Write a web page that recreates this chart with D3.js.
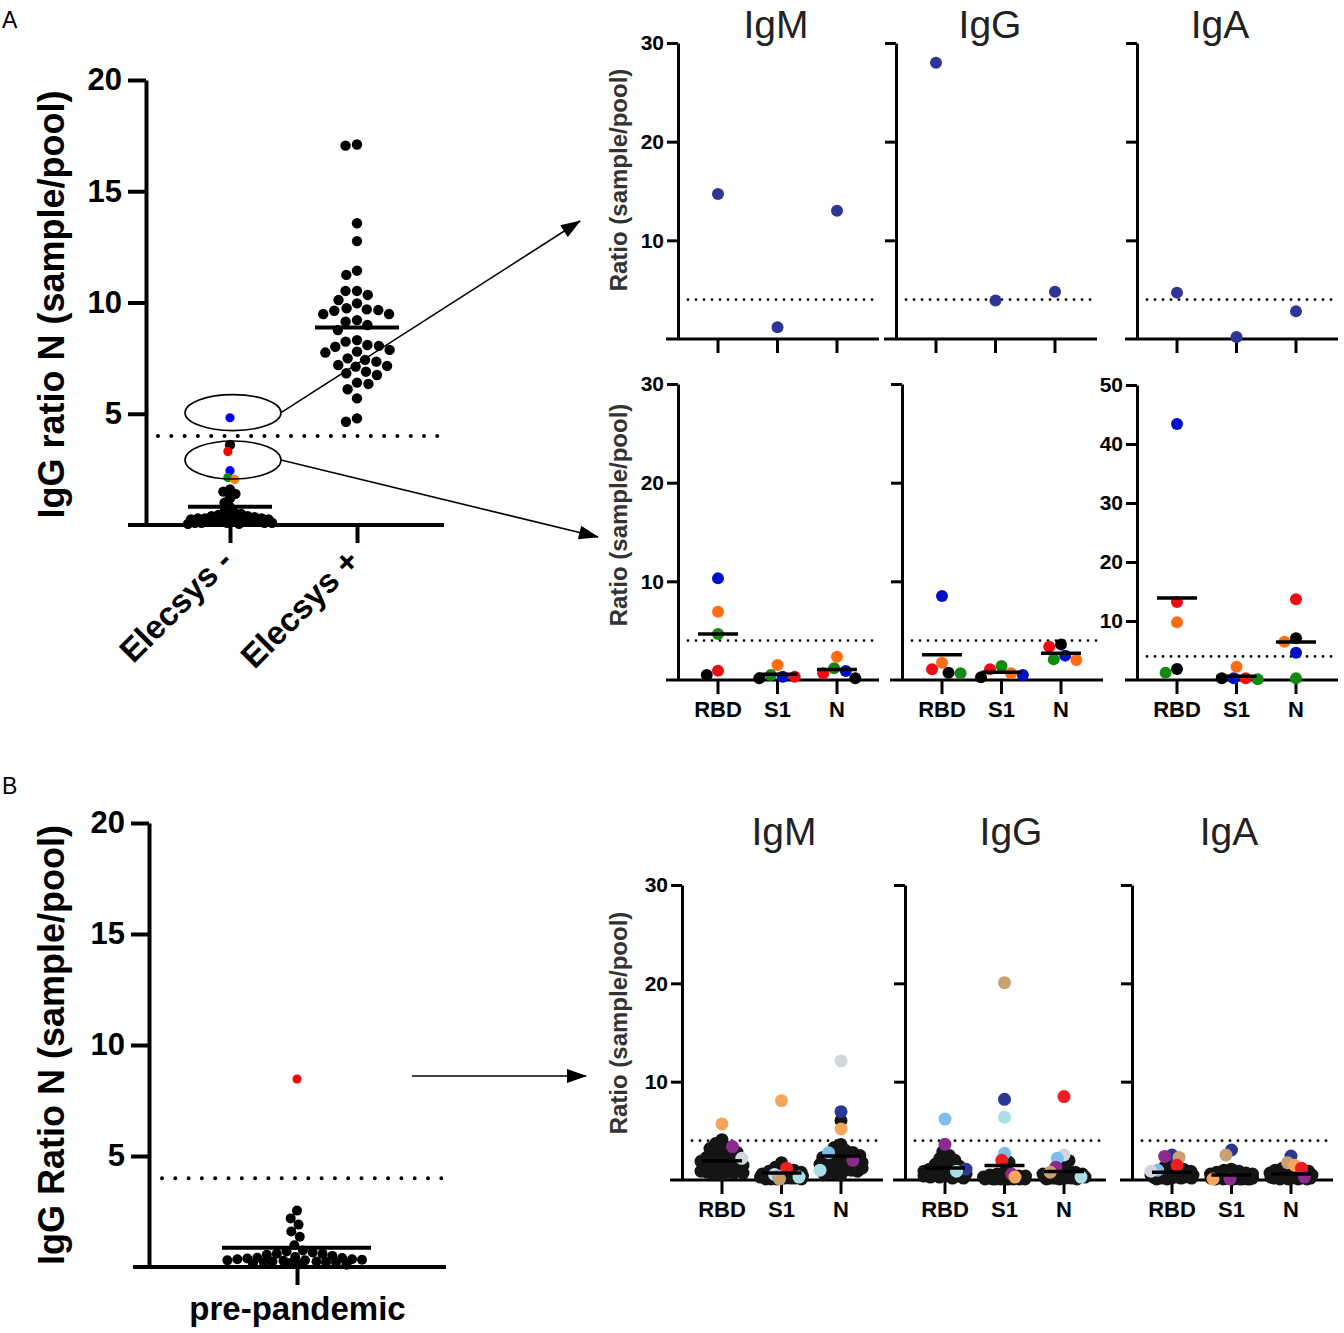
<!DOCTYPE html>
<html>
<head>
<meta charset="utf-8">
<script src="https://cdn.jsdelivr.net/npm/d3@7"></script>
<style>
body{margin:0;background:#fff;}
svg{display:block;font-family:"Liberation Sans",Arial,sans-serif;}
</style>
</head>
<body>
<script>
const W = 1344, H = 1333;

// ---------------- data ----------------
const cutoff = 4;
const groupsA = ["Elecsys -", "Elecsys +"];
// Elecsys negative: black samples and the five coloured (highlighted) samples
const elecsysNegBlack = [3.6, 1.6, 1.5, 1.4, 1.2, 1.0, 0.8, 0.6, 0.55, 0.5, 0.45, 0.4, 0.4, 0.35, 0.35,
  0.3, 0.3, 0.3, 0.25, 0.25, 0.25, 0.2, 0.2, 0.2, 0.2, 0.15, 0.15, 0.15, 0.1, 0.1, 0.1, 0.1, 0.1, 0.05, 0.05];
const elecsysNegColored = [4.82, 3.3, 2.44, 2.14, 2.05];
const elecsysNegColors = ["#0000ff", "#ff0000", "#0000ff", "#008a00", "#ff7f00"];
const elecsysPos = [17.1, 17.05, 13.56, 12.76, 11.43, 11.24, 10.52, 10.52, 10.34, 10.11, 9.96, 9.74, 9.69,
  9.66, 9.63, 9.48, 9.48, 9.21, 9.14, 8.99, 8.76, 8.31, 8.24, 8.09, 8.05, 8.01, 7.87, 7.79, 7.75, 7.49,
  7.42, 7.34, 7.19, 7.15, 7.12, 6.89, 6.82, 6.74, 6.40, 6.34, 6.10, 5.69, 4.79, 4.64];

const antigens = ["RBD", "S1", "N"];
const isotypes = ["IgM", "IgG", "IgA"];

// A top: the sample above the cut-off (RBD, S1, N)
const aTopIgM = [14.7, 1.2, 13.0];
const aTopIgG = [28.0, 3.9, 4.8];
const aTopIgA = [4.7, 0.2, 2.8];
const aTopColor = "#2e3594";

// A bottom: five samples below the cut-off, order blue, orange, green, red, black
const aBotColors = ["#0010c8", "#ff6d12", "#128a12", "#f00a14", "#000000"];
const aBotIgM = [[10.3, 6.92, 4.66, 0.94, 0.51], [0.34, 1.52, 0.51, 0.34, 0.17], [0.91, 2.36, 1.18, 0.68, 0.17]];
const aBotIgG = [[8.51, 1.76, 0.68, 1.08, 0.74], [0.51, 0.68, 1.42, 1.08, 0.27], [2.47, 2.03, 2.09, 3.38, 3.61]];
const aBotIgA = [[43.4, 9.77, 1.24, 13.2, 1.86], [0.28, 2.26, 0.11, 0.28, 0.28], [4.63, 6.5, 0.28, 13.7, 7.06]];

// B left: pre-pandemic
const preBlack = [2.54, 2.19, 1.91, 1.6, 1.36, 0.98, 0.74, 0.7, 0.65, 0.6, 0.59, 0.55, 0.5, 0.45, 0.42, 0.4,
  0.38, 0.35, 0.35, 0.33, 0.3, 0.3, 0.28, 0.25, 0.25, 0.22, 0.2, 0.2, 0.18, 0.15, 0.12, 0.1];
const preRed = [8.47];

// B right: highlighted samples [colour, value] and the black rest, per antigen RBD, S1, N
const bPalette = {orange: "#f6a55c", purple: "#8c2b8e", gray: "#d4d6de", navy: "#2b3794",
  lblue: "#7fbdeb", cyan: "#a9dfe6", tan: "#c9a170", red: "#ee1d23"};
const bIgMColored = [
  [["orange", 5.7], ["purple", 3.4], ["gray", 2.2]],
  [["orange", 8.07], ["red", 1.2], ["gray", 0.56], ["lblue", 0.4], ["cyan", 0.3], ["tan", 0.1]],
  [["gray", 12.1], ["navy", 6.95], ["orange", 5.19], ["lblue", 2.78], ["purple", 2.0], ["cyan", 1.0]]];
const bIgGColored = [
  [["lblue", 6.2], ["purple", 3.63], ["navy", 1.1], ["cyan", 0.9]],
  [["tan", 20.07], ["navy", 8.2], ["cyan", 6.37], ["lblue", 2.71], ["red", 2.0], ["purple", 0.6], ["orange", 0.3]],
  [["red", 8.48], ["gray", 2.54], ["lblue", 2.2], ["purple", 1.3], ["tan", 0.8], ["cyan", 0.3]]];
const bIgAColored = [
  [["navy", 2.54], ["purple", 2.4], ["tan", 2.3], ["red", 1.5], ["lblue", 1.0], ["gray", 0.9]],
  [["navy", 3.05], ["tan", 2.54], ["orange", 0.1], ["purple", 0.1]],
  [["navy", 2.44], ["tan", 1.76], ["orange", 1.5], ["red", 1.2], ["purple", 0.3]]];
const bIgMBlack = [
  [4.1, 3.7, 3.4, 3.2, 3.0, 2.8, 2.6, 2.4, 2.3, 2.2, 2.0, 1.9, 1.8, 1.7, 1.6, 1.5, 1.4, 1.3, 1.2, 1.1, 1.0, 1.0, 0.9, 0.9, 0.8, 0.8, 0.7, 0.7, 0.6, 0.5],
  [1.76, 1.3, 1.0, 0.9, 0.8, 0.7, 0.6, 0.6, 0.5, 0.5, 0.5, 0.4, 0.4, 0.4, 0.3, 0.3, 0.3, 0.3, 0.2, 0.2, 0.2, 0.2, 0.2, 0.1, 0.1, 0.1, 0.1],
  [6.03, 3.6, 3.3, 3.0, 2.8, 2.6, 2.5, 2.3, 2.2, 2.0, 1.9, 1.8, 1.7, 1.6, 1.5, 1.4, 1.3, 1.2, 1.2, 1.1, 1.0, 1.0, 0.9, 0.8, 0.7, 0.6, 0.5]];
const bIgGBlack = [
  [2.9, 2.5, 2.2, 2.0, 1.8, 1.6, 1.4, 1.3, 1.2, 1.1, 1.0, 0.9, 0.9, 0.8, 0.8, 0.7, 0.7, 0.6, 0.6, 0.5, 0.5, 0.5, 0.4, 0.4, 0.4, 0.3, 0.3, 0.2, 0.2],
  [1.8, 0.8, 0.6, 0.5, 0.4, 0.4, 0.3, 0.3, 0.3, 0.3, 0.2, 0.2, 0.2, 0.2, 0.2, 0.2, 0.2, 0.1, 0.1, 0.1, 0.1, 0.1, 0.1, 0.1, 0.1, 0.1],
  [1.97, 1.5, 0.9, 0.8, 0.7, 0.6, 0.6, 0.5, 0.5, 0.5, 0.4, 0.4, 0.4, 0.4, 0.3, 0.3, 0.3, 0.3, 0.3, 0.2, 0.2, 0.2, 0.2, 0.2, 0.1, 0.1, 0.1]];
const bIgABlack = [
  [1.8, 1.3, 1.1, 1.0, 0.9, 0.8, 0.8, 0.7, 0.7, 0.6, 0.6, 0.5, 0.5, 0.5, 0.4, 0.4, 0.4, 0.3, 0.3, 0.3, 0.3, 0.2, 0.2, 0.2, 0.2, 0.1, 0.1],
  [1.1, 1.0, 0.9, 0.8, 0.7, 0.6, 0.6, 0.5, 0.5, 0.5, 0.4, 0.4, 0.4, 0.3, 0.3, 0.3, 0.3, 0.2, 0.2, 0.2, 0.2, 0.2, 0.1, 0.1, 0.1, 0.1, 0.1, 0.1, 0.1],
  [1.2, 1.0, 0.9, 0.9, 0.8, 0.7, 0.7, 0.6, 0.6, 0.5, 0.5, 0.5, 0.4, 0.4, 0.4, 0.3, 0.3, 0.3, 0.3, 0.2, 0.2, 0.2, 0.2, 0.2, 0.1, 0.1, 0.1, 0.1]];

// ---------------- helpers ----------------
const svg = d3.select("body").append("svg").attr("width", W).attr("height", H);

// beeswarm: each point goes to the free offset closest to the centre
function swarm(items, sep, maxOff) {
  const placed = [];
  items.slice().sort((a, b) => a.py - b.py).forEach(p => {
    const near = placed.filter(q => Math.abs(q.py - p.py) < sep);
    const iv = near.map(q => {
      const w = Math.sqrt(sep * sep - (q.py - p.py) ** 2);
      return [q.dx - w, q.dx + w];
    });
    const free = c => iv.every(([a, b]) => c <= a + 1e-6 || c >= b - 1e-6);
    const cands = [0, ...iv.flat()].filter(c => Math.abs(c) <= maxOff && free(c))
      .sort((a, b) => Math.abs(a) - Math.abs(b) || a - b);
    let x = cands[0];
    if (x === undefined) {
      let best = -1;
      x = 0;
      for (let c = -maxOff; c <= maxOff; c += 0.5) {
        const d = d3.min(near, q => Math.hypot(q.dx - c, q.py - p.py));
        if (d > best + 1e-9) { best = d; x = c; }
      }
    }
    p.dx = x;
    placed.push(p);
  });
  return items;
}

function styleAxis(sel, stroke, fontSize) {
  sel.attr("font-family", null).attr("font-size", null);
  sel.select(".domain").attr("stroke", "#000").attr("stroke-width", stroke);
  sel.selectAll(".tick line").attr("stroke", "#000").attr("stroke-width", stroke);
  sel.selectAll(".tick text").attr("fill", "#000").style("font-size", fontSize + "px").style("font-weight", "bold");
}

function dotted(g, x1, x2, y, w, gap) {
  g.append("line").attr("x1", x1).attr("x2", x2).attr("y1", y).attr("y2", y)
    .attr("stroke", "#000").attr("stroke-width", w).attr("stroke-linecap", "round")
    .attr("stroke-dasharray", "0 " + gap);
}

// panel letters
svg.append("text").attr("x", 2).attr("y", 28).text("A").style("font-size", "23px");
svg.append("text").attr("x", 2).attr("y", 794).text("B").style("font-size", "23px");

// ---------------- A left ----------------
const yA = d3.scaleLinear().domain([0, 20]).range([525, 80]);
const xA = d3.scalePoint().domain(groupsA).range([230, 357]);
const gA = svg.append("g");

gA.append("line").attr("x1", 128).attr("x2", 444).attr("y1", yA(0)).attr("y2", yA(0))
  .attr("stroke", "#000").attr("stroke-width", 4);
const axYA = gA.append("g").attr("transform", "translate(146,0)")
  .call(d3.axisLeft(yA).tickValues([5, 10, 15, 20]).tickSize(18).tickPadding(6).tickSizeOuter(0).tickFormat(d3.format("d")));
styleAxis(axYA, 4, 31);
const axXA = gA.append("g").attr("transform", `translate(0,${yA(0)})`)
  .call(d3.axisBottom(xA).tickSize(18).tickSizeOuter(0));
axXA.select(".domain").remove();
styleAxis(axXA, 4, 33);
axXA.selectAll(".tick text").attr("y", null).attr("dy", null)
  .attr("text-anchor", "end").attr("transform", "translate(4,38) rotate(-45)");

gA.append("text").attr("transform", `translate(64,${(yA(0) + yA(20)) / 2 + 2}) rotate(-90)`)
  .attr("text-anchor", "middle").style("font-size", "36px").style("font-weight", "bold")
  .text("IgG ratio N (sample/pool)");

dotted(gA, 158, 442, yA(cutoff), 4, 13.3);

const negPts = elecsysNegBlack.map(v => ({v, c: "#000", py: yA(v)}))
  .concat(elecsysNegColored.map((v, i) => ({v, c: elecsysNegColors[i], py: yA(v), col: true})));
swarm(negPts, 7, 42);
const posPts = swarm(elecsysPos.map(v => ({v, c: "#000", py: yA(v)})), 11.5, 45);

[[groupsA[0], negPts, 84], [groupsA[1], posPts, 84]].forEach(([grp, pts, mw]) => {
  const cx = xA(grp);
  const ordered = pts.filter(p => !p.col).concat(pts.filter(p => p.col));
  gA.append("g").selectAll("circle").data(ordered).join("circle")
    .attr("cx", d => cx + d.dx).attr("cy", d => d.py).attr("r", d => d.col ? 4.6 : 5.2).attr("fill", d => d.c);
  const m = d3.mean(pts, d => d.v);
  gA.append("line").attr("x1", cx - mw / 2).attr("x2", cx + mw / 2).attr("y1", yA(m)).attr("y2", yA(m))
    .attr("stroke", "#000").attr("stroke-width", 4);
});

// highlight ellipses and arrows
const defs = svg.append("defs");
defs.append("marker").attr("id", "arrow").attr("viewBox", "0 0 20 14").attr("refX", 19).attr("refY", 7)
  .attr("markerWidth", 21).attr("markerHeight", 14).attr("markerUnits", "userSpaceOnUse").attr("orient", "auto")
  .append("path").attr("d", "M0,0L20,7L0,14Z").attr("fill", "#000");
const ellX = xA(groupsA[0]) + 3;
const ellipses = [{cy: yA(5.05), ry: 18, tx: 580, ty: 221}, {cy: yA(2.92), ry: 19, tx: 598, ty: 537}];
ellipses.forEach(e => {
  gA.append("ellipse").attr("cx", ellX).attr("cy", e.cy).attr("rx", 48).attr("ry", e.ry)
    .attr("fill", "none").attr("stroke", "#000").attr("stroke-width", 1.6);
  gA.append("line").attr("x1", ellX + 48).attr("y1", e.cy).attr("x2", e.tx).attr("y2", e.ty)
    .attr("stroke", "#000").attr("stroke-width", 1.6).attr("marker-end", "url(#arrow)");
});

// ---------------- small panels ----------------
function smallPanel(axisX, y, ticks, showLabels, showCats, groups, withMeans, sep, maxOff, r) {
  const g = svg.append("g");
  const x = d3.scalePoint().domain(antigens).range([axisX + 40, axisX + 159]);
  const y0 = y(0);
  g.append("line").attr("x1", axisX - 12).attr("x2", axisX + 201).attr("y1", y0).attr("y2", y0)
    .attr("stroke", "#000").attr("stroke-width", 3);
  g.selectAll(".xt").data(antigens).join("line").attr("class", "xt")
    .attr("x1", d => x(d)).attr("x2", d => x(d)).attr("y1", y0).attr("y2", y0 + 14)
    .attr("stroke", "#000").attr("stroke-width", 3);
  if (showCats) {
    g.selectAll(".xl").data(antigens).join("text").attr("class", "xl")
      .attr("x", d => x(d)).attr("y", y0 + 37).attr("text-anchor", "middle")
      .style("font-size", "22px").style("font-weight", "bold").text(d => d);
  }
  const ax = g.append("g").attr("transform", `translate(${axisX},0)`)
    .call(d3.axisLeft(y).tickValues(ticks).tickSize(11).tickPadding(3).tickSizeOuter(0)
      .tickFormat(showLabels ? d3.format("d") : ""));
  styleAxis(ax, 3, 21);
  dotted(g, axisX + 10, axisX + 201, y(cutoff), 2.8, 8);

  groups.forEach((pts, i) => {
    const cx = x(antigens[i]);
    pts.forEach(p => { p.py = y(p.v); });
    swarm(pts, sep, maxOff);
    const ordered = pts.filter(p => !p.col).concat(pts.filter(p => p.col));
    g.append("g").selectAll("circle").data(ordered).join("circle")
      .attr("cx", d => cx + d.dx).attr("cy", d => d.py).attr("r", r).attr("fill", d => d.c);
    if (withMeans) {
      const m = d3.mean(pts, d => d.v);
      g.append("line").attr("x1", cx - 20).attr("x2", cx + 20).attr("y1", y(m)).attr("y2", y(m))
        .attr("stroke", "#000").attr("stroke-width", 3.5);
    }
  });
  return g;
}

function ratioTitle(cy) {
  svg.append("text").attr("transform", `translate(627,${cy}) rotate(-90)`).attr("text-anchor", "middle")
    .attr("fill", "#333").style("font-size", "24px").style("font-weight", "bold").text("Ratio (sample/pool)");
}
function isoTitles(xs, y) {
  svg.selectAll(null).data(isotypes).join("text").attr("x", (d, i) => xs[i]).attr("y", y)
    .attr("text-anchor", "middle").attr("fill", "#222").style("font-size", "39px").text(d => d);
}

// A top row
const yTop = d3.scaleLinear().domain([0, 30]).range([339, 43]);
[aTopIgM, aTopIgG, aTopIgA].forEach((vals, k) => {
  const groups = vals.map(v => [{v, c: aTopColor}]);
  smallPanel([678, 896, 1137][k], yTop, [10, 20, 30], k === 0, false, groups, false, 12, 30, 6);
});
isoTitles([776, 990, 1220], 38);
ratioTitle(180);

// A bottom row
const yBot = d3.scaleLinear().domain([0, 30]).range([680, 384]);
const yBotA = d3.scaleLinear().domain([0, 50]).range([680, 385]);
[aBotIgM, aBotIgG, aBotIgA].forEach((rows, k) => {
  const groups = rows.map(r => r.map((v, j) => ({v, c: aBotColors[j]})));
  smallPanel([678, 902, 1137][k], k === 2 ? yBotA : yBot, k === 2 ? [10, 20, 30, 40, 50] : [10, 20, 30],
    k !== 1, true, groups, true, 12, 30, 6);
});
ratioTitle(515);

// ---------------- B left ----------------
const yB = d3.scaleLinear().domain([0, 20]).range([1267, 823]);
const xB = d3.scalePoint().domain(["pre-pandemic"]).range([297, 297]);
const gB = svg.append("g");
gB.append("line").attr("x1", 133).attr("x2", 446).attr("y1", yB(0)).attr("y2", yB(0))
  .attr("stroke", "#000").attr("stroke-width", 4);
const axYB = gB.append("g").attr("transform", "translate(149,0)")
  .call(d3.axisLeft(yB).tickValues([5, 10, 15, 20]).tickSize(18).tickPadding(6).tickSizeOuter(0).tickFormat(d3.format("d")));
styleAxis(axYB, 4, 31);
const axXB = gB.append("g").attr("transform", `translate(0,${yB(0)})`)
  .call(d3.axisBottom(xB).tickSize(18).tickPadding(12).tickSizeOuter(0));
axXB.select(".domain").remove();
styleAxis(axXB, 4, 33);
gB.append("text").attr("transform", `translate(64,${(yB(0) + yB(20)) / 2}) rotate(-90)`)
  .attr("text-anchor", "middle").style("font-size", "36px").style("font-weight", "bold")
  .text("IgG Ratio N (sample/pool)");
dotted(gB, 162, 443, yB(cutoff), 4, 13.3);
const prePts = preBlack.map(v => ({v, c: "#000", py: yB(v)}))
  .concat(preRed.map(v => ({v, c: "#ff0000", py: yB(v), col: true})));
swarm(prePts, 10, 70);
const cxB = xB("pre-pandemic");
gB.append("g").selectAll("circle").data(prePts).join("circle")
  .attr("cx", d => cxB + d.dx).attr("cy", d => d.py).attr("r", d => d.col ? 4.5 : 5).attr("fill", d => d.c);
const mB = d3.mean(prePts, d => d.v);
gB.append("line").attr("x1", cxB - 75).attr("x2", cxB + 74).attr("y1", yB(mB)).attr("y2", yB(mB))
  .attr("stroke", "#000").attr("stroke-width", 4);
gB.append("line").attr("x1", 412).attr("y1", 1076).attr("x2", 586).attr("y2", 1076)
  .attr("stroke", "#000").attr("stroke-width", 1.6).attr("marker-end", "url(#arrow)");

// ---------------- B right ----------------
const yBR = d3.scaleLinear().domain([0, 30]).range([1180, 885]);
[[bIgMColored, bIgMBlack], [bIgGColored, bIgGBlack], [bIgAColored, bIgABlack]].forEach(([col, blk], k) => {
  const groups = antigens.map((a, i) =>
    blk[i].map(v => ({v, c: "#151515"})).concat(col[i].map(([cn, v]) => ({v, c: bPalette[cn], col: true}))));
  smallPanel([682, 905, 1132][k], yBR, [10, 20, 30], k === 0, true, groups, true, 7.5, 21, 6.5);
});
isoTitles([784, 1011, 1229], 845);
ratioTitle(1023);
</script>
</body>
</html>
